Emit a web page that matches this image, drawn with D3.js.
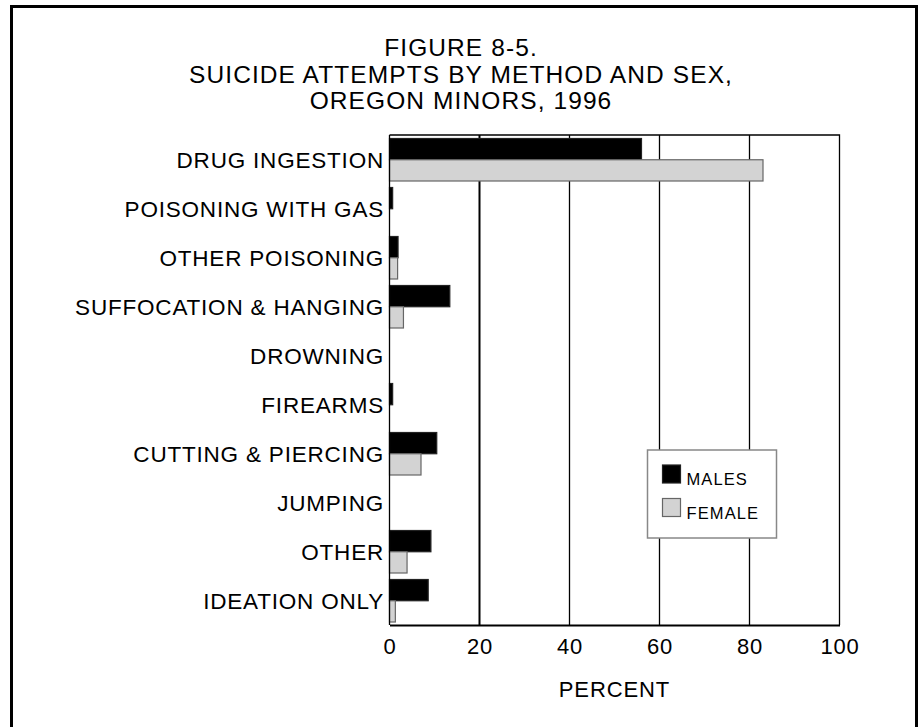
<!DOCTYPE html>
<html>
<head>
<meta charset="utf-8">
<script src="https://cdn.jsdelivr.net/npm/d3@7"></script>
<style>
  body { margin: 0; background: #fff; }
  svg { display: block; font-family: "Liberation Sans", Arial, sans-serif; }
</style>
</head>
<body>
<div id="chart"></div>
<script>
const categories = ["DRUG INGESTION", "POISONING WITH GAS", "OTHER POISONING",
  "SUFFOCATION & HANGING", "DROWNING", "FIREARMS", "CUTTING & PIERCING",
  "JUMPING", "OTHER", "IDEATION ONLY"];
const males  = [56, 0.7, 1.9, 13.4, 0, 0.7, 10.5, 0, 9.2, 8.6];
const female = [83, 0,   1.8, 3.1,  0, 0,   7.0,  0, 3.9, 1.3];
const series = ["MALES", "FEMALE"];
const xTicks = [0, 20, 40, 60, 80, 100];
const titleLines = ["FIGURE 8-5.", "SUICIDE ATTEMPTS BY METHOD AND SEX,", "OREGON MINORS, 1996"];

const w = 920, h = 727;
const plotL = 389.5, plotR = 839.5, plotT = 135, plotB = 625;

const svg = d3.select("#chart").append("svg")
  .attr("width", w).attr("height", h);

// outer frame
svg.append("rect")
  .attr("x", 11.5).attr("y", 6.5)
  .attr("width", 905).attr("height", 740)
  .attr("fill", "none").attr("stroke", "#000").attr("stroke-width", 3);

// title
svg.append("g").selectAll("text")
  .data(titleLines).enter().append("text")
  .attr("x", 461).attr("y", (d, i) => 56 + i * 26.5)
  .attr("text-anchor", "middle")
  .attr("font-size", 24.5).attr("letter-spacing", 1.1)
  .text(d => d);

const x = d3.scaleLinear().domain([0, 100]).range([plotL, plotR]);
const y = d3.scaleBand().domain(categories).range([plotT, plotB]);
const ySub = d3.scaleBand().domain(series).range([3.5, 46]);

// gridlines
svg.append("g").selectAll("line")
  .data(xTicks.filter(t => t > 0 && t < 100)).enter().append("line")
  .attr("x1", d => x(d)).attr("x2", d => x(d))
  .attr("y1", plotT).attr("y2", plotB)
  .attr("stroke", "#000")
  .attr("stroke-width", d => d == 20 ? 2 : 1.3);

// plot frame (top, right)
svg.append("path")
  .attr("d", `M${plotL},${plotT}H${plotR}V${plotB}`)
  .attr("fill", "none").attr("stroke", "#000").attr("stroke-width", 1.3);

// bars
const rows = categories.map((c, i) => ({ c, vals: [males[i], female[i]] }));
const g = svg.append("g").selectAll("g")
  .data(rows).enter().append("g")
  .attr("transform", d => "translate(0," + y(d.c) + ")");

g.selectAll("rect")
  .data(d => d.vals.map((v, j) => ({ v, s: series[j] })).filter(d => d.v > 0))
  .enter().append("rect")
  .attr("x", x(0))
  .attr("y", d => ySub(d.s))
  .attr("width", d => x(d.v) - x(0))
  .attr("height", ySub.bandwidth())
  .attr("fill", d => d.s == "MALES" ? "#000" : "#d3d3d3")
  .attr("stroke", d => d.s == "MALES" ? "#222" : "#666")
  .attr("stroke-width", 1.2);

// category labels
svg.append("g").selectAll("text")
  .data(categories).enter().append("text")
  .attr("x", plotL - 5.5)
  .attr("y", d => y(d) + y.bandwidth() / 2 + 8)
  .attr("text-anchor", "end")
  .attr("font-size", 22.5).attr("letter-spacing", 0.8)
  .text(d => d);

// axes
const xAxis = d3.axisBottom(x).tickValues(xTicks).tickSize(0).tickPadding(0);
const ax = svg.append("g")
  .attr("transform", "translate(0," + plotB + ")")
  .call(xAxis);
ax.select(".domain").attr("stroke-width", 2);
ax.selectAll("text")
  .attr("y", 29).attr("dy", 0)
  .attr("font-size", 22).attr("letter-spacing", 0.8)
  .attr("font-family", "Liberation Sans, Arial, sans-serif")
  .attr("fill", "#000");

svg.append("line")
  .attr("x1", plotL).attr("x2", plotL)
  .attr("y1", plotT).attr("y2", plotB)
  .attr("stroke", "#000").attr("stroke-width", 1.3);

svg.append("text")
  .attr("x", (plotL + plotR) / 2).attr("y", 697)
  .attr("text-anchor", "middle")
  .attr("font-size", 22).attr("letter-spacing", 0.9)
  .text("PERCENT");

// legend
const lg = svg.append("g").attr("transform", "translate(647.5,450)");
lg.append("rect")
  .attr("width", 129).attr("height", 88)
  .attr("fill", "#fff").attr("stroke", "#888").attr("stroke-width", 1.5);
const li = lg.selectAll("g.item")
  .data(series).enter().append("g").attr("class", "item")
  .attr("transform", (d, i) => "translate(15," + (15 + i * 33.5) + ")");
li.append("rect")
  .attr("width", 18).attr("height", 18)
  .attr("fill", d => d == "MALES" ? "#000" : "#d3d3d3")
  .attr("stroke", d => d == "MALES" ? "#222" : "#666")
  .attr("stroke-width", 1.2);
li.append("text")
  .attr("x", 24).attr("y", 20)
  .attr("font-size", 16.5).attr("letter-spacing", 1.1)
  .text(d => d);
</script>
</body>
</html>
